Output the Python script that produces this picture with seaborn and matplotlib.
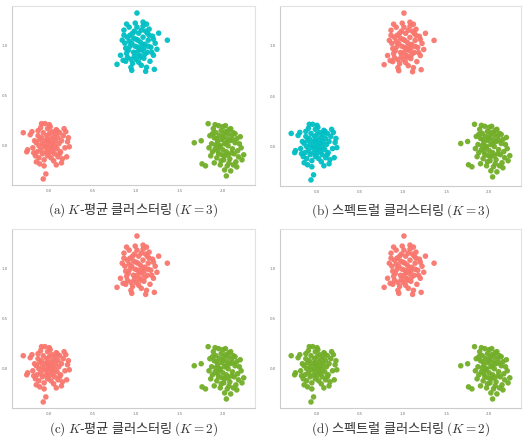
import matplotlib
matplotlib.use("Agg")
import matplotlib.pyplot as plt
import seaborn as sns
import pandas as pd

# ---- data: three point clouds ----
left_x = [-0.30,-0.26,-0.25,-0.22,-0.20,-0.19,-0.17,-0.16,-0.15,-0.15,-0.14,-0.13,-0.12,-0.12,-0.11,-0.10,-0.10,-0.09,-0.09,-0.08,
          -0.08,-0.07,-0.07,-0.06,-0.06,-0.05,-0.05,-0.04,-0.04,-0.03,-0.03,-0.02,-0.02,-0.01,-0.01,0.00,0.00,0.01,0.01,0.02,
          0.02,0.03,0.03,0.04,0.04,0.05,0.05,0.06,0.06,0.07,0.07,0.08,0.08,0.09,0.10,0.10,0.11,0.12,0.13,0.14,
          0.15,0.16,0.17,0.18,0.20,0.21,0.22,0.23,-0.18,-0.11,0.12,-0.02,0.09,-0.13,0.19,-0.06,0.00,0.14]
left_y = [0.13,-0.06,-0.04,0.11,0.14,-0.02,0.05,-0.10,-0.16,0.03,-0.06,0.10,0.00,-0.12,0.06,0.18,-0.04,0.22,0.08,-0.08,
          0.02,-0.33,0.13,-0.01,-0.14,0.22,0.05,-0.28,-0.06,0.10,0.00,0.17,-0.10,0.04,-0.03,0.12,-0.07,0.01,0.19,-0.12,
          0.07,-0.02,0.14,-0.05,0.03,0.09,-0.15,0.00,-0.08,0.12,0.05,0.16,-0.19,-0.03,0.08,-0.11,0.02,0.13,-0.06,0.05,
          -0.13,0.10,0.17,-0.02,-0.11,0.04,0.08,-0.01,-0.07,-0.18,-0.08,0.06,0.15,0.15,0.14,-0.20,0.21,-0.17]

top_x = [1.01,1.36,0.78,1.21,1.11,0.95,1.26,0.89,1.12,0.86,0.92,1.08,1.15,0.84,0.88,0.90,0.82,0.93,0.95,0.97,
         0.98,1.00,1.00,1.02,1.03,1.04,1.05,1.06,1.07,1.08,1.09,1.10,1.11,1.13,1.14,1.16,1.17,1.19,1.20,1.22,
         0.96,0.91,0.87,0.94,0.99,1.01,1.03,1.06,0.97,0.92,0.85,0.89,1.12,1.18,1.24,1.15,1.02,1.04,1.07,0.98,
         0.93,0.90,1.09,1.13,0.99,1.05,0.96,1.10,0.88,1.01,1.14,0.94,1.08,1.20,0.86]
top_y = [1.32,1.05,0.81,0.76,0.74,0.75,1.12,1.21,1.21,1.15,1.18,1.23,1.16,1.05,0.97,0.88,0.90,1.10,1.02,0.93,
         1.14,1.06,0.86,0.98,1.12,0.90,1.03,0.80,0.95,1.08,0.87,1.01,1.14,0.93,1.05,0.84,0.98,1.09,0.90,1.02,
         0.82,0.95,1.02,0.86,0.99,1.18,0.83,1.15,1.07,1.04,0.85,0.92,0.78,0.93,0.96,1.10,1.05,0.96,1.00,0.89,
         0.99,1.08,0.97,1.12,1.22,0.88,1.12,0.91,0.84,0.93,0.99,0.78,1.19,1.06,1.10]

right_x = [1.67,1.76,1.83,2.04,2.24,1.75,1.80,1.85,1.87,1.88,1.89,1.90,1.91,1.92,1.93,1.94,1.95,1.95,1.96,1.97,
           1.98,1.98,1.99,2.00,2.00,2.01,2.02,2.02,2.03,2.04,2.05,2.05,2.06,2.07,2.08,2.08,2.09,2.10,2.11,2.12,
           2.13,2.14,2.15,2.16,2.17,2.18,2.19,2.20,2.21,2.22,1.86,1.90,1.93,1.97,2.01,2.03,2.06,2.09,2.11,1.84,
           1.92,1.96,1.99,2.04,2.07,2.12,2.14,1.94,2.00,1.88,2.06,2.10,2.16,1.91,2.02]
right_y = [0.03,-0.18,0.22,-0.30,-0.09,0.05,-0.20,0.10,0.02,-0.06,0.17,0.08,-0.03,0.13,-0.12,0.04,0.20,-0.08,0.10,0.00,
           -0.15,0.15,0.06,-0.04,0.19,0.11,-0.10,0.02,0.14,-0.06,0.07,-0.20,0.00,0.16,-0.13,0.05,-0.25,0.10,-0.03,0.13,
           -0.08,0.03,-0.16,0.07,-0.05,-0.11,0.02,0.09,-0.02,-0.14,-0.10,-0.17,0.07,-0.19,-0.14,0.20,-0.09,0.17,0.06,-0.02,
           0.01,-0.01,-0.09,0.03,-0.17,-0.19,0.12,-0.05,0.08,0.12,0.12,-0.07,-0.21,0.21,-0.24]

# cluster assignment of (left, top, right) cloud in each panel
panel_labels = {
    "a": ("1", "2", "3"),
    "b": ("2", "1", "3"),
    "c": ("1", "1", "3"),
    "d": ("3", "1", "3"),
}
captions = {
    "a": r"$\mathrm{(a)}$ $K$-평균 클러스터링 $\mathrm{(}K=3\mathrm{)}$",
    "b": r"$\mathrm{(b)}$ 스펙트럴 클러스터링 $\mathrm{(}K=3\mathrm{)}$",
    "c": r"$\mathrm{(c)}$ $K$-평균 클러스터링 $\mathrm{(}K=2\mathrm{)}$",
    "d": r"$\mathrm{(d)}$ 스펙트럴 클러스터링 $\mathrm{(}K=2\mathrm{)}$",
}
palette = {"1": "#F8766D", "2": "#00BFC4", "3": "#72AE28"}
xticks = [0.0, 0.5, 1.0, 1.5, 2.0]
yticks = [0.0, 0.5, 1.0]

sns.set_style("white")
plt.rcParams["font.family"] = ["Noto Sans CJK KR", "DejaVu Sans"]
plt.rcParams["mathtext.fontset"] = "cm"

W, H = 526, 437
fig = plt.figure(figsize=(W / 100, H / 100), dpi=100)

boxes = {  # left, top, right, bottom in pixels
    "a": (12, 6, 255, 185),
    "b": (280, 6, 521, 186),
    "c": (12, 229, 255, 408),
    "d": (280, 229, 521, 408),
}
cap_y = {"a": 210, "b": 211, "c": 429, "d": 429}

for key, (l, t, r, b) in boxes.items():
    ax = fig.add_axes([l / W, 1 - b / H, (r - l) / W, (b - t) / H])
    lab = panel_labels[key]
    xs = left_x + top_x + right_x
    ys = left_y + top_y + right_y
    hs = [lab[0]] * len(left_x) + [lab[1]] * len(top_x) + [lab[2]] * len(right_x)
    df = pd.DataFrame({"x": xs, "y": ys, "cluster": hs})
    sns.scatterplot(data=df, x="x", y="y", hue="cluster", palette=palette,
                    s=16, linewidth=0, alpha=0.95, legend=False, ax=ax)
    ax.set_xlim(-0.43, 2.37)
    ax.set_ylim(-0.39, 1.39)
    ax.set_xticks(xticks)
    ax.set_yticks(yticks)
    ax.set_xticklabels([f"{v:.1f}" for v in xticks], fontsize=2.8, color="#777777",
                       family="DejaVu Sans")
    ax.set_yticklabels([f"{v:.1f}" for v in yticks], fontsize=2.8, color="#777777",
                       family="DejaVu Sans")
    ax.tick_params(length=1.5, width=0.4, color="#999999", pad=1.5)
    ax.set_xlabel("")
    ax.set_ylabel("")
    for side, sp in ax.spines.items():
        sp.set_visible(True)
        sp.set_linewidth(0.8)
        sp.set_color("#e2e2e2" if side in ("top", "right") else "#cccccc")
    fig.text(((l + r) / 2) / W, 1 - cap_y[key] / H, captions[key],
             ha="center", va="center", fontsize=9.5, color="#333333")

fig.savefig("out.png", dpi=100)
